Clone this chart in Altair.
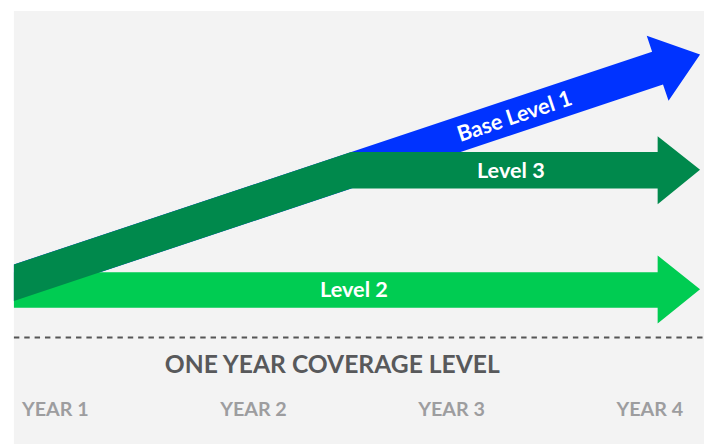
import altair as alt
import pandas as pd

# ---- data (x in years, y in coverage-level units 0..100) ----
base1_x = [0.791, 4.012, 3.985, 4.254, 4.095, 4.067, 0.791]
base1_y = [41.46, 90.62, 94.31, 89.98, 79.27, 83.03, 33.03]

level2_x = [0.791, 4.040, 4.040, 4.254, 4.040, 4.040, 0.791]
level2_y = [39.64, 39.64, 43.51, 35.76, 27.79, 31.44, 31.44]

level3_x = [0.791, 2.493, 4.040, 4.040, 4.254, 4.040, 4.040, 2.493, 0.791]
level3_y = [41.46, 67.43, 67.43, 71.07, 63.33, 55.35, 59.00, 59.00, 33.03]

label_text = ["Base Level 1", "Level 3", "Level 2"]
label_x = [3.318, 3.299, 2.507]
label_y = [75.6, 63.1, 35.5]
label_angle = [341.57, 0, 0]

year_labels = ["YEAR 1", "YEAR 2", "YEAR 3", "YEAR 4"]
year_x = [1, 2, 3, 4]
year_y = 7.75

title_text = "ONE YEAR COVERAGE LEVEL"
title_x = 2.398
title_y = 18.2

baseline_y = 24.6
x_domain = [0.791, 4.274]
y_domain = [0, 100]

BLUE = "#0033ff"
DARK = "#00894c"
LIGHT = "#00cc52"

xs = alt.Scale(domain=x_domain, nice=False, zero=False)
ys = alt.Scale(domain=y_domain, nice=False, zero=False)


def poly(xv, yv, color):
    df = pd.DataFrame({"x": xv, "y": yv, "i": list(range(len(xv)))})
    return alt.Chart(df).mark_line(fill=color, stroke=color, strokeWidth=0, interpolate="linear").encode(
        x=alt.X("x:Q", scale=xs, axis=None),
        y=alt.Y("y:Q", scale=ys, axis=None),
        order=alt.Order("i:Q"),
    )


blue = poly(base1_x, base1_y, BLUE)
light = poly(level2_x, level2_y, LIGHT)
dark = poly(level3_x, level3_y, DARK)

labels_df = pd.DataFrame({"t": label_text, "x": label_x, "y": label_y, "a": label_angle})
labels = []
for _, r in labels_df.iterrows():
    labels.append(
        alt.Chart(pd.DataFrame([r])).mark_text(
            font="Lato", fontWeight="bold", fontSize=22, color="white",
            align="center", baseline="middle", angle=float(r["a"]),
        ).encode(x=alt.X("x:Q", scale=xs, axis=None), y=alt.Y("y:Q", scale=ys, axis=None), text="t:N")
    )

rule_df = pd.DataFrame({"x": [x_domain[0]], "x2": [x_domain[1]], "y": [baseline_y]})
rule = alt.Chart(rule_df).mark_rule(color="#555555", strokeWidth=2, strokeDash=[5.5, 5]).encode(
    x=alt.X("x:Q", scale=xs, axis=None), x2="x2:Q", y=alt.Y("y:Q", scale=ys, axis=None)
)

title = alt.Chart(pd.DataFrame({"t": [title_text], "x": [title_x], "y": [title_y]})).mark_text(
    font="Lato", fontWeight="bold", fontSize=25, color="#58595b", align="center", baseline="middle"
).encode(x=alt.X("x:Q", scale=xs, axis=None), y=alt.Y("y:Q", scale=ys, axis=None), text="t:N")

years = alt.Chart(pd.DataFrame({"t": year_labels, "x": year_x, "y": [year_y] * 4})).mark_text(
    font="Lato", fontWeight="bold", fontSize=20, color="#9d9d9f", align="center", baseline="middle"
).encode(x=alt.X("x:Q", scale=xs, axis=None), y=alt.Y("y:Q", scale=ys, axis=None), text="t:N")

chart = alt.layer(blue, light, dark, *labels, rule, title, years).properties(
    width=700, height=439,
    padding={"left": 5, "top": 0, "right": 0, "bottom": 0},
    background="white",
).configure_view(fill="#f3f3f3", strokeWidth=0)

chart.save("out.html", embed_options={"renderer": "svg", "actions": False})
